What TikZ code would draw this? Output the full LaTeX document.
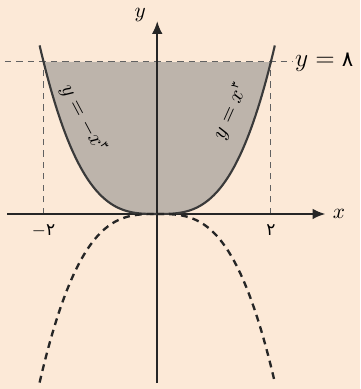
\documentclass[tikz,border=0pt]{standalone}
\usepackage{amsmath}
\usepackage{fontspec}
\newfontfamily\fadigits[Script=Arabic]{DejaVu Sans}
\usetikzlibrary{arrows.meta}
\definecolor{paper}{HTML}{FCE9D7}
\definecolor{ink}{HTML}{262626}
\definecolor{graphite}{HTML}{3A3A3A}
\newcommand{\fa}[1]{\text{\fadigits #1}}
\newcommand{\fasup}[1]{\text{\fadigits\tiny #1}}
\tikzset{
  axis/.style={draw=ink, line width=0.95pt, -{Latex[length=6pt,width=5pt]}},
  curve/.style={draw=graphite, line width=1pt},
  mirror/.style={draw=ink, line width=1.1pt, dash pattern=on 3.2pt off 2.4pt},
  guide/.style={draw=graphite!80, line width=0.45pt, dash pattern=on 3pt off 2.4pt},
  lbl/.style={inner sep=1pt},
  ticklbl/.style={lbl, font=\footnotesize, anchor=north}
}
\begin{document}
\begin{tikzpicture}[x=26.7pt, y=8.93pt]
 \useasboundingbox[fill=paper] (-2.767,-9.21) rectangle (3.577,11.26);
 % region between the two branches and the line y=8
 \fill[gray, fill opacity=0.5] (-2,8) -- plot[domain=-2:0, samples=60] (\x,{-\x*\x*\x})
   -- plot[domain=0:2, samples=60] (\x,{\x*\x*\x}) -- cycle;

 \coordinate (O) at (0,0);
 \coordinate (A) at (-2,0);
 \coordinate (B) at (2,0);
 \coordinate (A8) at (-2,8);
 \coordinate (B8) at (2,8);

 \draw[guide] (-2.68,8) -- (2.38,8) node[lbl, anchor=west, font=\large] (hlab) {$y=\fa{\normalsize ۸}$};
 \draw[guide] (A) -- (A8);
 \draw[guide] (B) -- (B8);

 \draw[axis] (-2.64,0) -- (2.96,0) node[lbl, anchor=west, xshift=2pt] (xlab) {$x$};
 \draw[axis] (0,-8.9) -- (0,10.15) coordinate (ytip);
 \node[lbl] (ylab) at (-0.3,10.45) {$y$};

 \draw[curve] plot[domain=-2.07:0, samples=80] (\x,{-\x*\x*\x});
 \draw[curve] plot[domain=0:2.07, samples=80] (\x,{\x*\x*\x});
 \draw[mirror] plot[domain=-2.07:0, samples=80] (\x,{\x*\x*\x});
 \draw[mirror] plot[domain=0:2.07, samples=80] (\x,{-\x*\x*\x});

 \node[ticklbl] (la) at (-2,-0.45) {$-\fa{۲}$};
 \node[ticklbl] (lb) at (2,-0.45) {$\fa{۲}$};

 \node[lbl, rotate=-62] (cl) at (-1.3,5.0) {$y=-x^{\fasup{۳}}$};
 \node[lbl, rotate=66] (cr) at (1.29,5.4) {$y=x^{\fasup{۳}}$};
\end{tikzpicture}
\end{document}
